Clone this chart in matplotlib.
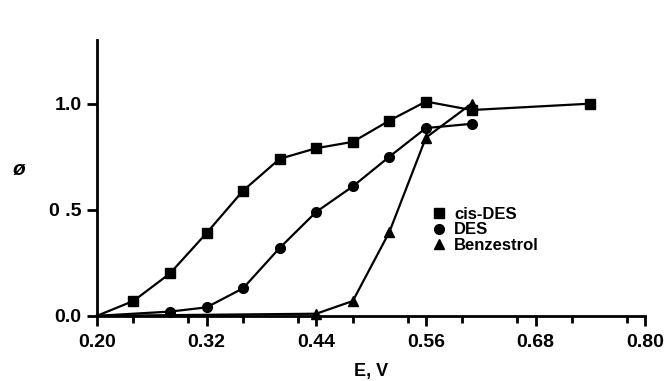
import matplotlib
matplotlib.use("Agg")
import matplotlib.pyplot as plt
from matplotlib.lines import Line2D
from matplotlib.ticker import MultipleLocator

# potential (V) and quantum yield for each compound
cis_des_e = [0.20, 0.24, 0.28, 0.32, 0.36, 0.40, 0.44, 0.48, 0.52, 0.56, 0.61, 0.74]
cis_des_phi = [0.0, 0.07, 0.20, 0.39, 0.59, 0.74, 0.79, 0.82, 0.92, 1.01, 0.97, 1.00]

des_e = [0.20, 0.28, 0.32, 0.36, 0.40, 0.44, 0.48, 0.52, 0.56, 0.61]
des_phi = [0.0, 0.02, 0.04, 0.13, 0.32, 0.49, 0.61, 0.75, 0.885, 0.905]

benz_e = [0.20, 0.44, 0.48, 0.52, 0.56, 0.61]
benz_phi = [0.0, 0.01, 0.07, 0.395, 0.84, 1.00]

names = ["cis-DES", "DES", "Benzestrol"]
markers = ["s", "o", "^"]

x_ticks = [0.20, 0.32, 0.44, 0.56, 0.68, 0.80]
y_ticks = [0.0, 0.5, 1.0]

plt.rcParams["font.family"] = ["Liberation Sans", "DejaVu Sans"]
plt.rcParams["font.weight"] = "bold"

fig = plt.figure(figsize=(6.68, 3.81), dpi=100)
ax = fig.add_axes([0.145, 0.171, 0.821, 0.724])

line_kw = dict(color="black", lw=1.6, markersize=7, markevery=slice(1, None), clip_on=False)
series = [(cis_des_e, cis_des_phi), (des_e, des_phi), (benz_e, benz_phi)]
for (xs, ys), m in zip(series, markers):
    ax.plot(xs, ys, marker=m, **line_kw)

ax.set_xlim(0.20, 0.80)
ax.set_ylim(0.0, 1.30)
ax.set_xticks(x_ticks)
ax.set_xticklabels([f"{v:.2f}" for v in x_ticks])
ax.xaxis.set_minor_locator(MultipleLocator(0.06))
ax.set_yticks(y_ticks)
ax.set_yticklabels(["0.0", "0 .5", "1.0"])

for side in ("top", "right"):
    ax.spines[side].set_visible(False)
for side in ("left", "bottom"):
    ax.spines[side].set_linewidth(2)

ax.tick_params(axis="both", which="major", direction="out", length=7, width=2,
               labelsize=14, pad=4)
ax.tick_params(axis="x", which="major", pad=6)
ax.tick_params(axis="x", which="minor", direction="out", length=5, width=2)
for lab in ax.get_xticklabels() + ax.get_yticklabels():
    lab.set_fontweight("bold")

ax.set_xlabel("E, V", fontsize=13, fontweight="bold", labelpad=9)
fig.text(0.028, 0.555, "ø", fontsize=15, fontweight="bold", style="italic",
         ha="center", va="center")

handles = [Line2D([], [], color="black", marker=m, linestyle="none", markersize=7)
           for m in markers]
ax.legend(handles, names, loc="upper left", bbox_to_anchor=(0.6, 0.42), frameon=False,
          prop={"size": 12, "weight": "bold"}, handlelength=0.8,
          handletextpad=0.5, labelspacing=0.05, borderaxespad=0)

fig.savefig("out.png", dpi=100)
